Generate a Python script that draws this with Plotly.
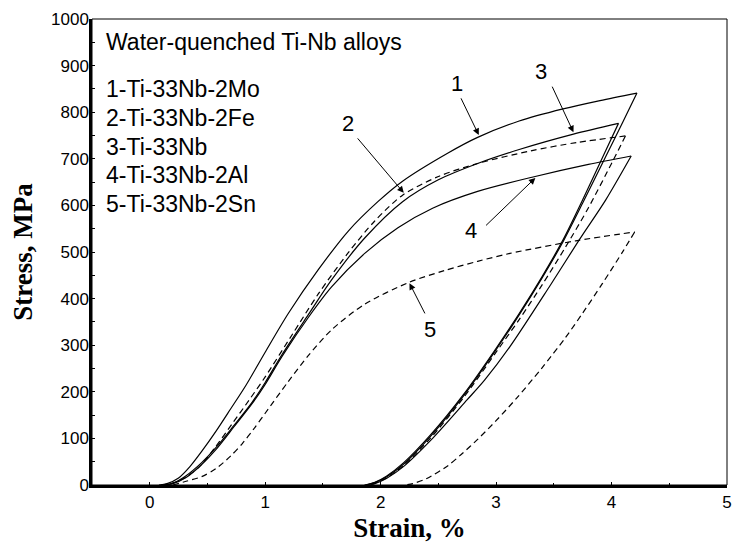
import plotly.graph_objects as go

# ---------------- data ----------------
# Curve 1: Ti-33Nb-2Mo (solid)
c1_load_x = [0.08, 0.15, 0.25, 0.35, 0.45, 0.573, 0.70, 0.831, 1.00, 1.20, 1.46, 1.72, 1.976, 2.19, 2.58, 2.84, 3.20, 3.58, 3.90, 4.22]
c1_load_y = [0, 3, 15, 40, 72, 115, 163, 213, 285, 368, 462, 545, 608, 652, 712, 746, 781, 807, 825, 841]
c1_unload_x = [4.22, 4.10, 3.95, 3.75, 3.58, 3.40, 3.20, 2.98, 2.72, 2.43, 2.20, 2.05, 1.95, 1.87]
c1_unload_y = [841, 780, 705, 605, 522, 445, 365, 283, 192, 104, 45, 17, 5, 0]

# Curve 2: Ti-33Nb-2Fe (dashed)
c2_load_x = [0.10, 0.20, 0.30, 0.43, 0.57, 0.716, 0.86, 1.00, 1.232, 1.46, 1.718, 1.947, 2.19, 2.50, 2.84, 3.30, 3.70, 4.12]
c2_load_y = [0, 4, 15, 39, 82, 132, 182, 232, 322, 410, 498, 566, 622, 662, 690, 717, 735, 749]
c2_unload_x = [4.12, 4.00, 3.80, 3.60, 3.40, 3.20, 3.00, 2.72, 2.43, 2.20, 2.05, 1.95, 1.88]
c2_unload_y = [749, 690, 595, 510, 430, 355, 285, 188, 100, 42, 15, 4, 0]

# Curve 3: Ti-33Nb (solid)
c3_load_x = [0.12, 0.20, 0.315, 0.45, 0.573, 0.73, 0.888, 1.00, 1.146, 1.375, 1.575, 1.862, 2.19, 2.50, 2.84, 3.20, 3.67, 4.06]
c3_load_y = [0, 4, 20, 48, 80, 128, 178, 220, 280, 366, 440, 530, 608, 655, 690, 720, 753, 776]
c3_unload_x = [4.06, 3.95, 3.75, 3.58, 3.40, 3.20, 2.98, 2.72, 2.43, 2.20, 2.05, 1.95, 1.86]
c3_unload_y = [776, 718, 612, 526, 448, 368, 286, 195, 107, 48, 19, 6, 0]

# Curve 4: Ti-33Nb-2Al (solid)
c4_load_x = [0.12, 0.20, 0.315, 0.45, 0.573, 0.73, 0.888, 1.00, 1.146, 1.375, 1.575, 1.862, 2.15, 2.45, 2.84, 3.32, 3.80, 4.17]
c4_load_y = [0, 3, 16, 44, 76, 125, 175, 216, 276, 360, 425, 497, 552, 594, 630, 661, 688, 706]
c4_unload_x = [4.17, 3.95, 3.72, 3.46, 3.12, 2.90, 2.75, 2.45, 2.20, 2.05, 1.95, 1.90]
c4_unload_y = [706, 612, 526, 425, 297, 225, 183, 100, 40, 14, 3, 0]

# Curve 5: Ti-33Nb-2Sn (dashed)
c5_load_x = [0.20, 0.315, 0.45, 0.573, 0.70, 0.802, 0.90, 1.00, 1.203, 1.375, 1.575, 1.862, 2.248, 2.55, 2.84, 3.12, 3.69, 4.20]
c5_load_y = [0, 8, 18, 35, 62, 89, 120, 154, 223, 278, 333, 388, 435, 460, 480, 497, 524, 543]
c5_unload_x = [4.20, 4.10, 3.92, 3.75, 3.60, 3.40, 3.18, 3.00, 2.84, 2.70, 2.58, 2.40, 2.28, 2.21]
c5_unload_y = [543, 502, 432, 369, 316, 252, 187, 138, 98, 66, 41, 14, 3, 0]

x_ticks = [0, 1, 2, 3, 4, 5]
y_ticks = [0, 100, 200, 300, 400, 500, 600, 700, 800, 900, 1000]

title_text = "Water-quenched Ti-Nb alloys"
legend_lines = ["1-Ti-33Nb-2Mo", "2-Ti-33Nb-2Fe", "3-Ti-33Nb", "4-Ti-33Nb-2Al", "5-Ti-33Nb-2Sn"]
curve_labels = ["1", "2", "3", "4", "5"]

# ---------------- figure ----------------
SANS = "Liberation Sans, Arial, sans-serif"
SERIF = "Liberation Serif, Times New Roman, serif"
DASH = "6px,4px"

curves = [
    (c1_load_x, c1_load_y, c1_unload_x, c1_unload_y, "solid"),
    (c2_load_x, c2_load_y, c2_unload_x, c2_unload_y, DASH),
    (c3_load_x, c3_load_y, c3_unload_x, c3_unload_y, "solid"),
    (c4_load_x, c4_load_y, c4_unload_x, c4_unload_y, "solid"),
    (c5_load_x, c5_load_y, c5_unload_x, c5_unload_y, DASH),
]

fig = go.Figure()
for lx, ly, ux, uy, dash in curves:
    for xs, ys in ((lx, ly), (ux, uy)):
        fig.add_trace(go.Scatter(
            x=xs, y=ys, mode="lines",
            line=dict(color="black", width=1.2, dash=dash, shape="spline", smoothing=0.8),
            showlegend=False, hoverinfo="skip"))

annotations = []
annotations.append(dict(x=-0.4, y=950, xref="x", yref="y", text=title_text,
                        showarrow=False, xanchor="left", yanchor="middle",
                        font=dict(family=SANS, size=23, color="black")))
leg_y = [849, 788, 726, 665, 604]
for t, yy in zip(legend_lines, leg_y):
    annotations.append(dict(x=-0.4, y=yy, xref="x", yref="y", text=t,
                            showarrow=False, xanchor="left", yanchor="middle",
                            font=dict(family=SANS, size=23, color="black")))

# arrows: (tip x, tip y, tail x, tail y, label x, label y)
arrows = [
    (2.85, 751, 2.69, 833, 2.66, 862),
    (2.20, 627, 1.79, 747, 1.72, 776),
    (3.67, 757, 3.48, 858, 3.39, 888),
    (3.34, 659, 2.90, 554, 2.78, 547),
    (2.25, 433, 2.39, 365, 2.43, 333),
]
for lab, (tx, ty, ax, ay, lx, ly) in zip(curve_labels, arrows):
    annotations.append(dict(x=tx, y=ty, ax=ax, ay=ay, xref="x", yref="y",
                            axref="x", ayref="y", text="", showarrow=True,
                            arrowhead=2, arrowsize=1.3, arrowwidth=1, arrowcolor="black"))
    annotations.append(dict(x=lx, y=ly, xref="x", yref="y", text=lab,
                            showarrow=False, xanchor="center", yanchor="middle",
                            font=dict(family=SANS, size=22, color="black")))

fig.update_layout(
    width=734, height=543,
    margin=dict(l=92, r=2, t=19, b=58),
    paper_bgcolor="white", plot_bgcolor="white",
    showlegend=False,
    annotations=annotations,
    shapes=[dict(type="rect", xref="paper", yref="paper", x0=0, y0=0, x1=1, y1=1,
                 line=dict(color="black", width=1), layer="above")],
    xaxis=dict(range=[-0.5, 5], tickvals=x_ticks, ticktext=[str(v) for v in x_ticks],
               showline=True, linewidth=2.5, linecolor="black", showgrid=False, zeroline=False,
               ticks="inside", ticklen=3, tickcolor="black", tickwidth=1,
               minor=dict(dtick=0.5, ticks="inside", ticklen=2, tickcolor="black"),
               ticklabeloverflow="allow",
               tickfont=dict(family=SANS, size=17, color="black"),
               title=dict(text="<b>Strain, %</b>", standoff=10,
                          font=dict(family=SERIF, size=27, color="black"))),
    yaxis=dict(range=[0, 1000], tickvals=y_ticks, ticktext=[str(v) for v in y_ticks],
               showline=True, linewidth=2.5, linecolor="black", showgrid=False, zeroline=False,
               ticks="inside", ticklen=3, tickcolor="black", tickwidth=1,
               minor=dict(dtick=50, ticks="inside", ticklen=3, tickcolor="black"),
               ticklabeloverflow="allow", ticklabelstandoff=-3,
               tickfont=dict(family=SANS, size=17, color="black"),
               title=dict(text="<b>Stress, MPa</b>", standoff=11,
                          font=dict(family=SERIF, size=27, color="black"))),
)

fig.write_html("out.html")
